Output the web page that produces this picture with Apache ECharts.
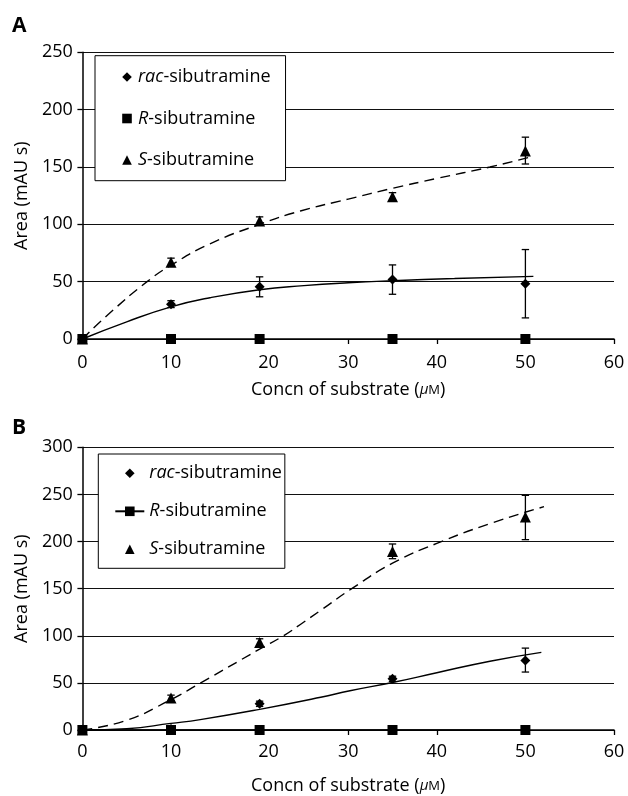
<!DOCTYPE html>
<html><head><meta charset="utf-8">
<script src="https://cdn.jsdelivr.net/npm/echarts@6/dist/echarts.min.js"></script>
<style>html,body{margin:0;padding:0;background:#fff}#c{width:628px;height:796px}</style>
</head><body><div id="c"></div>
<script>
// ---- data ----
const xTickLabels = [0, 10, 20, 30, 40, 50, 60];
const conc = [0, 10, 20, 35, 50];

// Panel A
const aRac = [0, 30.4, 45.5, 51.8, 48.2];
const aRacLow = [0, 27.4, 36.8, 39.0, 18.4];
const aRacHigh = [0, 33.4, 54.2, 64.6, 78.0];
const aR = [0, 0, 0, 0, 0];
const aS = [0, 67, 103, 124, 164];
const aSLow = [0, 63.5, 99.5, 120.5, 152.6];
const aSHigh = [0, 70.5, 106.5, 127.6, 176.0];
const aRacFitX = [0, 5, 10, 14.4, 20, 25, 30, 35, 42, 50.9];
const aRacFitY = [0, 15, 28, 36, 43, 46.5, 49, 50.8, 52.8, 54.6];
const aSFitX = [0, 3, 7.3, 10, 14.4, 20, 24.6, 30, 35, 40, 46, 50.5];
const aSFitY = [0, 22, 50, 64.3, 83, 100, 111.6, 122, 131.4, 140, 150, 158.5];

// Panel B
const bRac = [0, 1, 27.8, 54.3, 73.7];
const bRacLow = [0, 1, 25, 51.5, 61.5];
const bRacHigh = [0, 1, 30.6, 57.1, 86.9];
const bR = [0, 0, 0, 0, 0];
const bS = [0, 34, 92.8, 189.5, 226];
const bSLow = [0, 31, 88.8, 181.8, 202];
const bSHigh = [0, 37, 96.8, 197.4, 249];
const bRacFitX = [0, 5, 10, 13.3, 20, 26.9, 30.2, 35, 40, 46, 51.8];
const bRacFitY = [0, 1.4, 7, 11, 21.9, 34.7, 41.7, 50.4, 60.8, 73, 82.4];
const bSFitX = [0, 5, 10, 13.3, 20, 22.7, 24.6, 26.9, 30.4, 35, 40, 46, 52.1];
const bSFitY = [0, 10.4, 32.3, 49.7, 85.8, 100, 112, 127, 150, 177, 198, 219, 237];

const legendLabels = {
  'A-rac': '{i|rac}-sibutramine', 'A-R': '{i|R}-sibutramine', 'A-S': '{i|S}-sibutramine',
  'B-rac': '{i|rac}-sibutramine', 'B-R': '{i|R}-sibutramine', 'B-S': '{i|S}-sibutramine'
};

// ---- chart ----
const FONT = '"Open Sans", "Noto Sans", sans-serif';
const zip = (xs, ys) => xs.map((x, i) => [x, ys[i]]);
const zip3 = (xs, lo, hi) => xs.map((x, i) => [x, lo[i], hi[i]]);

function errRender(params, api) {
  const x = api.value(0), lo = api.value(1), hi = api.value(2);
  if (!(hi - lo > 0.5)) return null;
  const p1 = api.coord([x, hi]), p2 = api.coord([x, lo]);
  const w = 3.7;
  const style = { stroke: '#000', lineWidth: 1.3 };
  return { type: 'group', children: [
    { type: 'line', shape: { x1: p1[0], y1: p1[1], x2: p2[0], y2: p2[1] }, style },
    { type: 'line', shape: { x1: p1[0] - w, y1: p1[1], x2: p1[0] + w, y2: p1[1] }, style },
    { type: 'line', shape: { x1: p2[0] - w, y1: p2[1], x2: p2[0] + w, y2: p2[1] }, style }
  ]};
}

const baseText = { color: '#000', fontFamily: FONT, fontSize: 18 };

function xAxisOpt(gi, margin, gap) {
  return {
    type: 'value', gridIndex: gi, min: 0, max: 60, interval: 10,
    axisLine: { show: true, onZero: false, lineStyle: { color: '#000', width: 1.5 } },
    axisTick: { show: true, length: 5, lineStyle: { color: '#000', width: 1.3 } },
    splitLine: { show: false },
    axisLabel: Object.assign({}, baseText, {
      margin: margin,
      formatter: v => (v === xTickLabels[2] ? '{o|' + v + '}' : String(v)),
      rich: { o: Object.assign({}, baseText, { padding: [0, 0, 0, 18] }) }
    }),
    name: '{t|Concn of substrate (}{mu|\u03bc}{sc|M}{t|)}',
    nameLocation: 'middle', nameGap: gap,
    nameTextStyle: Object.assign({}, baseText, {
      rich: {
        t: Object.assign({}, baseText),
        mu: Object.assign({}, baseText, { fontSize: 15, fontStyle: 'italic' }),
        sc: Object.assign({}, baseText, { fontSize: 13 })
      }
    })
  };
}
function yAxisOpt(gi, max) {
  return {
    type: 'value', gridIndex: gi, min: 0, max: max, interval: 50,
    axisLine: { show: true, lineStyle: { color: '#000', width: 1.5 } },
    axisTick: { show: true, length: 5, lineStyle: { color: '#000', width: 1.3 } },
    splitLine: { show: true, lineStyle: { color: '#111', width: 1.2 } },
    axisLabel: Object.assign({}, baseText, { margin: 9.5 }),
    name: 'Area (mAU s)', nameLocation: 'middle', nameGap: 47,
    nameTextStyle: Object.assign({}, baseText)
  };
}
function pointSeries(name, gi, ys, symbol, withLine) {
  return {
    name, type: 'line', xAxisIndex: gi, yAxisIndex: gi, data: zip(conc, ys),
    symbol, symbolSize: symbol === 'triangle' ? 11 : 10, showSymbol: true, clip: false,
    itemStyle: { color: '#000' }, color: '#000',
    lineStyle: withLine ? { color: '#000', width: 1.5 } : { width: 0, opacity: 0 },
    z: 6, silent: true, animation: false
  };
}
function fitSeries(gi, xs, ys, dashed) {
  return {
    type: 'line', xAxisIndex: gi, yAxisIndex: gi, data: zip(xs, ys),
    symbol: 'none', smooth: 0.5,
    lineStyle: { color: '#000', width: 1.4, type: dashed ? [10, 6] : 'solid' },
    z: 3, silent: true, animation: false
  };
}
function errSeries(gi, lo, hi) {
  return {
    type: 'custom', xAxisIndex: gi, yAxisIndex: gi, data: zip3(conc, lo, hi),
    encode: { x: 0, y: [1, 2] }, renderItem: errRender, z: 5, silent: true, animation: false
  };
}
function legendOpt(left, top, names, iw, gap, padding) {
  return {
    left, top, orient: 'vertical', itemWidth: iw, itemHeight: 12, itemGap: gap,
    padding, borderColor: '#000', borderWidth: 1, backgroundColor: '#fff',
    selectedMode: false, data: names, formatter: n => legendLabels[n],
    textStyle: Object.assign({}, baseText, { lineHeight: 20,
      rich: { i: Object.assign({}, baseText, { fontStyle: 'italic', lineHeight: 20 }) } }),
    z: 10
  };
}

const chart = echarts.init(document.getElementById('c'), null, { renderer: 'canvas' });
chart.setOption({
  animation: false,
  backgroundColor: '#fff',
  grid: [
    { left: 82.4, top: 52.3, width: 531.6, height: 286.7 },
    { left: 82.4, top: 447.3, width: 531.6, height: 287.7 }
  ],
  xAxis: [xAxisOpt(0, 15, 42), xAxisOpt(1, 13, 47)],
  yAxis: [yAxisOpt(0, 250), yAxisOpt(1, 300)],
  legend: [
    legendOpt(95, 55.7, ['A-rac', 'A-R', 'A-S'], 12, 21.5, [11.3, 15, 10.7, 26]),
    legendOpt(98.3, 454, ['B-rac', 'B-R', 'B-S'], 29, 18, [9.3, 3, 9, 16])
  ],
  graphic: [
    { type: 'text', left: 12, top: 16, style: { text: 'A', fill: '#000', font: 'bold 21px ' + FONT } },
    { type: 'text', left: 12, top: 418, style: { text: 'B', fill: '#000', font: 'bold 21px ' + FONT } }
  ],
  series: [
    fitSeries(0, aRacFitX, aRacFitY, false),
    fitSeries(0, aSFitX, aSFitY, true),
    errSeries(0, aRacLow, aRacHigh),
    errSeries(0, aSLow, aSHigh),
    pointSeries('A-rac', 0, aRac, 'diamond', false),
    pointSeries('A-S', 0, aS, 'triangle', false),
    pointSeries('A-R', 0, aR, 'rect', false),

    fitSeries(1, bRacFitX, bRacFitY, false),
    fitSeries(1, bSFitX, bSFitY, true),
    errSeries(1, bRacLow, bRacHigh),
    errSeries(1, bSLow, bSHigh),
    pointSeries('B-rac', 1, bRac, 'diamond', false),
    pointSeries('B-S', 1, bS, 'triangle', false),
    pointSeries('B-R', 1, bR, 'rect', true)
  ]
});
</script></body></html>
